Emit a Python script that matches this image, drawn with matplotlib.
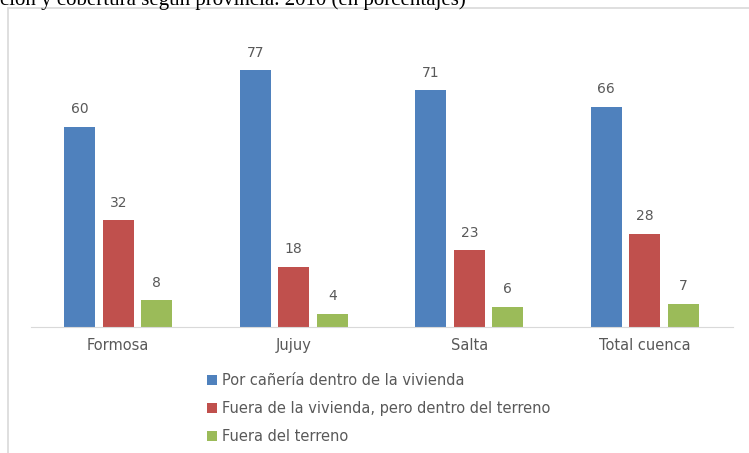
import matplotlib.pyplot as plt
import matplotlib.patches as patches
import numpy as np

provincias = ["Formosa", "Jujuy", "Salta", "Total cuenca"]
series = [
    "Por cañería dentro de la vivienda",
    "Fuera de la vivienda, pero dentro del terreno",
    "Fuera del terreno",
]
dentro_vivienda = [60, 77, 71, 66]
dentro_terreno = [32, 18, 23, 28]
fuera_terreno = [8, 4, 6, 7]
colores = ["#4F81BD", "#C0504D", "#9BBB59"]

W, H = 749, 453
fig = plt.figure(figsize=(W / 100, H / 100), dpi=100)

# marco del grafico (recortado)
fig.patches.append(patches.Rectangle((8 / W, -0.1), 1.0, (H - 8) / H + 0.1,
                                     transform=fig.transFigure, fill=False,
                                     edgecolor="#D9D9D9", linewidth=1.2))
# titulo cortado arriba, como en la imagen original
fig.text(0.0, 1 - 5 / H, "ción y cobertura según provincia. 2010 (en porcentajes)",
         family="Liberation Serif", fontsize=15, va="baseline", ha="left")

ax = fig.add_axes([30.5 / W, 126 / H, 702 / W, 266.7 / H])
x = np.arange(len(provincias))
ancho = 0.177
paso = 0.22
for i, (vals, nombre) in enumerate(zip([dentro_vivienda, dentro_terreno, fuera_terreno], series)):
    pos = x + (i - 1) * paso
    ax.bar(pos, vals, ancho, color=colores[i], label=nombre)
    for p, v in zip(pos, vals):
        ax.text(p, v + 3.2, str(v), ha="center", va="bottom", fontsize=10, color="#595959")

ax.set_xlim(-0.5, 3.5)
ax.set_ylim(0, 80)
ax.set_yticks([])
ax.set_xticks(x)
ax.set_xticklabels(provincias, fontsize=10.5, color="#595959")
ax.tick_params(axis="x", length=0, pad=8)
for s in ["top", "right", "left"]:
    ax.spines[s].set_visible(False)
ax.spines["bottom"].set_color("#D9D9D9")

leg = fig.legend(loc="upper left", bbox_to_anchor=(194 / W, 1 - 360 / H), frameon=False,
                 fontsize=10.5, labelcolor="#595959", handlelength=0.7, handleheight=0.7,
                 handletextpad=0.3, labelspacing=0.9)

fig.savefig("out.png", dpi=100)
